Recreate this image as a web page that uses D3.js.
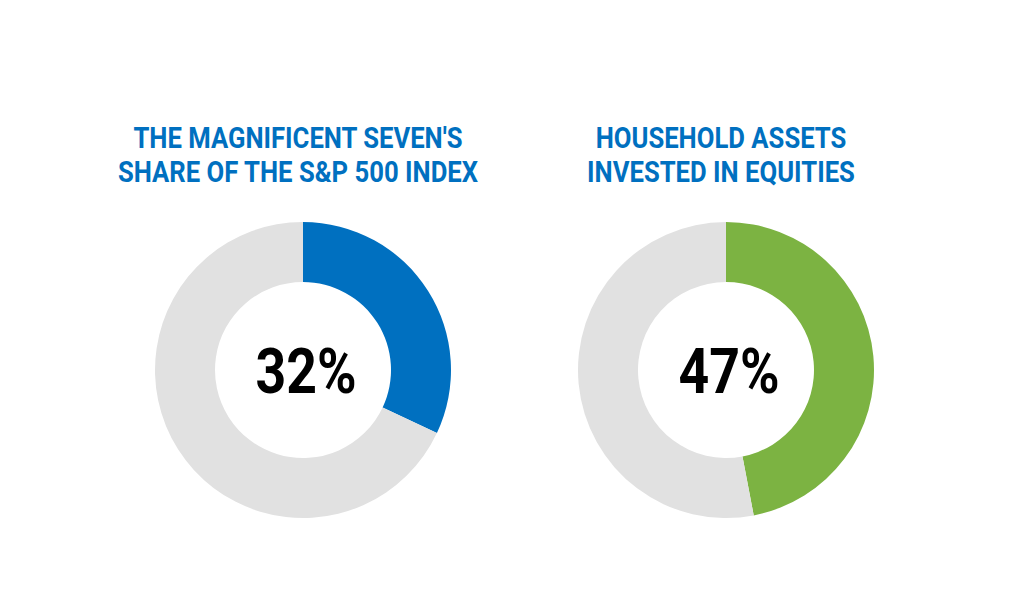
<!DOCTYPE html>
<html><head><meta charset="utf-8">
<script src="https://cdn.jsdelivr.net/npm/d3@7"></script>
<style>html,body{margin:0;padding:0;background:#fff;}</style>
</head><body>
<svg id="c" width="1024" height="610"></svg>
<script>
const titles = [["THE MAGNIFICENT SEVEN'S","SHARE OF THE S&P 500 INDEX"],["HOUSEHOLD ASSETS","INVESTED IN EQUITIES"]];
const values = [32, 47];
const colors = ["#0070c0", "#7cb342"];
const restColor = "#e1e1e1";

const svg = d3.select("#c");
const x = d3.scalePoint().domain(d3.range(values.length)).range([303, 726]);
const cy = 370, outerR = 148, innerR = 88;
const arc = d3.arc().innerRadius(innerR).outerRadius(outerR);
const pie = d3.pie().sort(null).value(d => d);

values.forEach((v, i) => {
  const g = svg.append("g").attr("transform", `translate(${x(i)},${cy})`);
  g.selectAll("path").data(pie([v, 100 - v])).join("path")
    .attr("d", arc)
    .attr("fill", (d, j) => j === 0 ? colors[i] : restColor);
  g.append("text")
    .attr("transform", `translate(3,23) scale(0.85,1)`)
    .attr("text-anchor", "middle")
    .attr("font-family", "Roboto, sans-serif")
    .attr("font-weight", 700)
    .attr("font-size", 63)
    .attr("fill", "#000")
    .text(v + "%");
  const tg = svg.append("g").attr("transform", `translate(${x(i) - 5},0)`);
  titles[i].forEach((line, k) => {
    tg.append("text")
      .attr("transform", `translate(0,${148 + k * 34}) scale(0.885,1)`)
      .attr("text-anchor", "middle")
      .attr("font-family", "Roboto, sans-serif")
      .attr("font-weight", 700)
      .attr("font-size", 29)
      .attr("fill", "#0070c0")
      .text(line);
  });
});
</script>
</body></html>
